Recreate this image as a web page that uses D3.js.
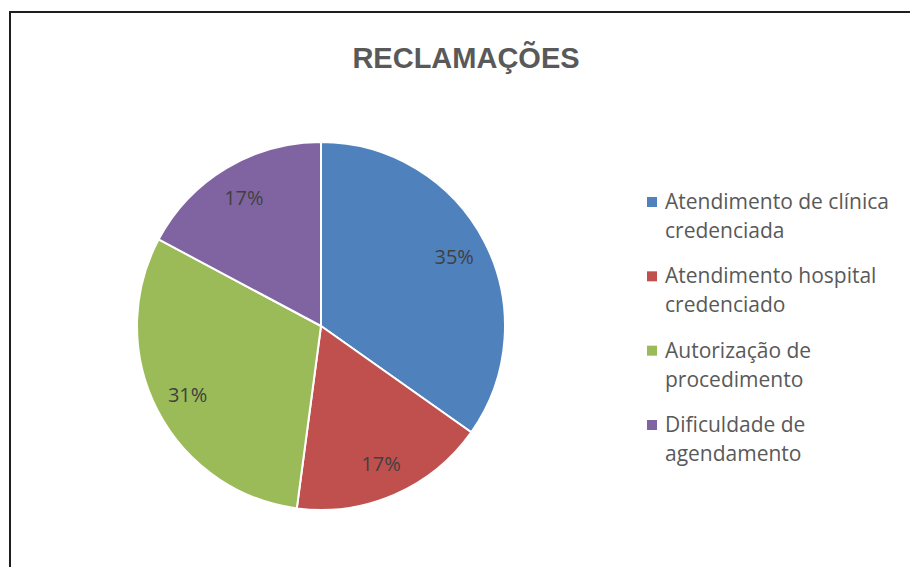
<!DOCTYPE html>
<html>
<head>
<meta charset="utf-8">
<script src="https://cdnjs.cloudflare.com/ajax/libs/d3/7.8.5/d3.min.js"></script>
<style>
  body { margin: 0; background: #fff; }
  svg text { font-family: "Open Sans", "Liberation Sans", Arial, sans-serif; }
</style>
</head>
<body>
<svg id="chart" width="910" height="567"></svg>
<script>
// data
var categories = ["Atendimento de clínica credenciada", "Atendimento hospital credenciado", "Autorização de procedimento", "Dificuldade de agendamento"];
var legendLines = [["Atendimento de clínica", "credenciada"], ["Atendimento hospital", "credenciado"], ["Autorização de", "procedimento"], ["Dificuldade de", "agendamento"]];
var values = [34.8, 17.3, 30.7, 17.2];
var colors = ["#4F81BD", "#C0504D", "#9BBB59", "#8064A2"];
var title = "RECLAMAÇÕES";

var svg = d3.select("svg#chart");

// chart frame
svg.append("rect")
  .attr("x", 10).attr("y", 12)
  .attr("width", 920).attr("height", 580)
  .style("fill", "white")
  .style("stroke", "#1e1e1e")
  .style("stroke-width", 2);

svg.append("text")
  .attr("x", 466).attr("y", 68)
  .attr("text-anchor", "middle")
  .style("font-family", "'Liberation Sans', Arial, sans-serif")
  .style("font-size", "29px")
  .style("font-weight", "bold")
  .style("fill", "#595959")
  .text(title);

var cx = 321, cy = 326, radius = 184;
var total = d3.sum(values);

var pie = d3.pie().sort(null).value(function(d) { return d; });
var arc = d3.arc().innerRadius(0).outerRadius(radius);
var labelArc = d3.arc().innerRadius(radius * 0.815).outerRadius(radius * 0.815);

var g = svg.append("g").attr("transform", "translate(" + cx + "," + cy + ")");

var slices = g.selectAll("g.slice")
  .data(pie(values))
  .enter()
  .append("g").attr("class", "slice");

slices.append("path")
  .attr("d", arc)
  .style("fill", function(d, i) { return colors[i]; })
  .style("stroke", "white")
  .style("stroke-width", 2);

slices.append("text")
  .attr("transform", function(d) { return "translate(" + labelArc.centroid(d) + ")"; })
  .attr("text-anchor", "middle")
  .attr("dy", "0.36em")
  .style("font-size", "20px")
  .style("fill", "#404040")
  .text(function(d) { return Math.round(d.value / total * 100) + "%"; });

// legend
var legendY = d3.scalePoint().domain(categories).range([202, 425]);

var legend = svg.append("g").attr("class", "legend")
  .selectAll("g")
  .data(categories)
  .enter()
  .append("g")
  .attr("transform", function(d) { return "translate(647," + legendY(d) + ")"; });

legend.append("rect")
  .attr("x", 0).attr("y", -5)
  .attr("width", 10).attr("height", 10)
  .style("fill", function(d, i) { return colors[i]; });

legend.append("text")
  .attr("x", 18).attr("y", 7)
  .style("font-size", "21px")
  .style("fill", "#595959")
  .selectAll("tspan")
  .data(function(d, i) { return legendLines[i]; })
  .enter()
  .append("tspan")
  .attr("x", 18)
  .attr("dy", function(d, j) { return j === 0 ? 0 : 29; })
  .text(function(d) { return d; });
</script>
</body>
</html>
